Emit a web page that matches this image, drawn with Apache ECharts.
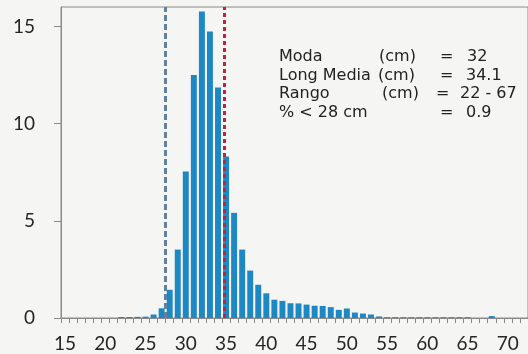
<!DOCTYPE html>
<html>
<head>
<meta charset="utf-8">
<script src="https://cdn.jsdelivr.net/npm/echarts@6/dist/echarts.min.js"></script>
<style>
html,body{margin:0;padding:0;background:#f5f5f3;}
#c{width:528px;height:354px;}
</style>
</head>
<body>
<div id="c"></div>
<script>
// Length classes (cm)
var categories = [];
for (var k = 15; k <= 72; k++) categories.push(String(k));
// Frequency (%) per length class (15..72)
var freq = [
  0, 0, 0, 0, 0, 0, 0,             // 15-21
  0.05, 0.05, 0.06, 0.07, 0.18,    // 22-26
  0.5, 1.45, 3.52, 7.54, 12.5,     // 27-31
  15.77, 14.74, 11.86, 8.31, 5.41, // 32-36
  3.52, 2.44, 1.71, 1.27, 0.94,    // 37-41
  0.88, 0.76, 0.75, 0.69, 0.63,    // 42-46
  0.62, 0.56, 0.42, 0.49, 0.28,    // 47-51
  0.23, 0.18, 0.08, 0.04, 0.04,    // 52-56
  0.04, 0.04, 0.04, 0.04, 0.04,    // 57-61
  0.04, 0.04, 0.04, 0.04, 0,       // 62-66
  0, 0.1, 0, 0, 0, 0               // 67-72
];
var yTicks = [0, 5, 10, 15];
// Reference lines (position on the length axis)
var refLines = [27.5, 34.8];
// Annotation rows
var statLabels = ["Moda", "Long Media", "Rango", "% < 28 cm"];
var statUnits = ["(cm)", "(cm)", "(cm)", ""];
var statValues = ["32", "34.1", "22 - 67", "0.9"];

var chart = echarts.init(document.getElementById('c'));
var txtFont = '"DejaVu Sans", sans-serif';
var rowY = [58, 76.5, 95, 113.5];
var unitX = [379, 378, 382, 0];
var eqX = [440, 440, 436, 440];
var valX = [467, 466, 460, 466];
var graphics = [];
for (var i = 0; i < statLabels.length; i++) {
  graphics.push({type:'text', left:279, top:rowY[i]-9, style:{text:statLabels[i], font:'16px ' + txtFont, fill:'#222'}});
  if (statUnits[i]) graphics.push({type:'text', left:unitX[i], top:rowY[i]-9, style:{text:statUnits[i], font:'16px ' + txtFont, fill:'#222'}});
  graphics.push({type:'text', left:eqX[i], top:rowY[i]-9, style:{text:'=', font:'16px ' + txtFont, fill:'#222'}});
  graphics.push({type:'text', left:valX[i], top:rowY[i]-9, style:{text:statValues[i], font:'16px ' + txtFont, fill:'#222'}});
}

chart.setOption({
  backgroundColor: '#f5f5f3',
  animation: false,
  grid: {left: 61, top: 7, right: -4, bottom: 36, show: true, borderColor: '#8a8a8a', borderWidth: 1, backgroundColor: 'transparent'},
  xAxis: [{
    type: 'category',
    data: categories,
    boundaryGap: true,
    axisLine: {lineStyle: {color: '#8a8a8a', width: 1}},
    axisTick: {show: true, interval: 0, length: 5, lineStyle: {color: '#8a8a8a'}},
    axisLabel: {interval: 4, color: '#262626', fontFamily: 'Lato', fontSize: 19, margin: 16}
  }, {
    type: 'value', min: 14.5, max: 72.5, show: false
  }],
  yAxis: {
    type: 'value', min: 0, max: 16, interval: 5,
    axisLine: {show: true, lineStyle: {color: '#8a8a8a'}},
    axisTick: {show: true, length: 7, lineStyle: {color: '#8a8a8a'}},
    axisLabel: {color: '#262626', fontFamily: 'Lato', fontSize: 19, margin: 26, showMaxLabel: false},
    splitLine: {show: false}
  },
  graphic: graphics,
  series: [{
    type: 'bar',
    data: freq,
    barCategoryGap: '26%',
    itemStyle: {color: '#1d88c4'},
    silent: true
  }, {
    type: 'line',
    xAxisIndex: 1,
    data: [],
    silent: true,
    markLine: {
      silent: true, symbol: 'none', label: {show: false},
      data: [
        {xAxis: refLines[0], lineStyle: {color: '#62819f', width: 3, type: [6, 3]}},
        {xAxis: refLines[1], lineStyle: {color: '#c4213e', width: 3, type: [4, 3]}}
      ]
    }
  }]
});
</script>
</body>
</html>
